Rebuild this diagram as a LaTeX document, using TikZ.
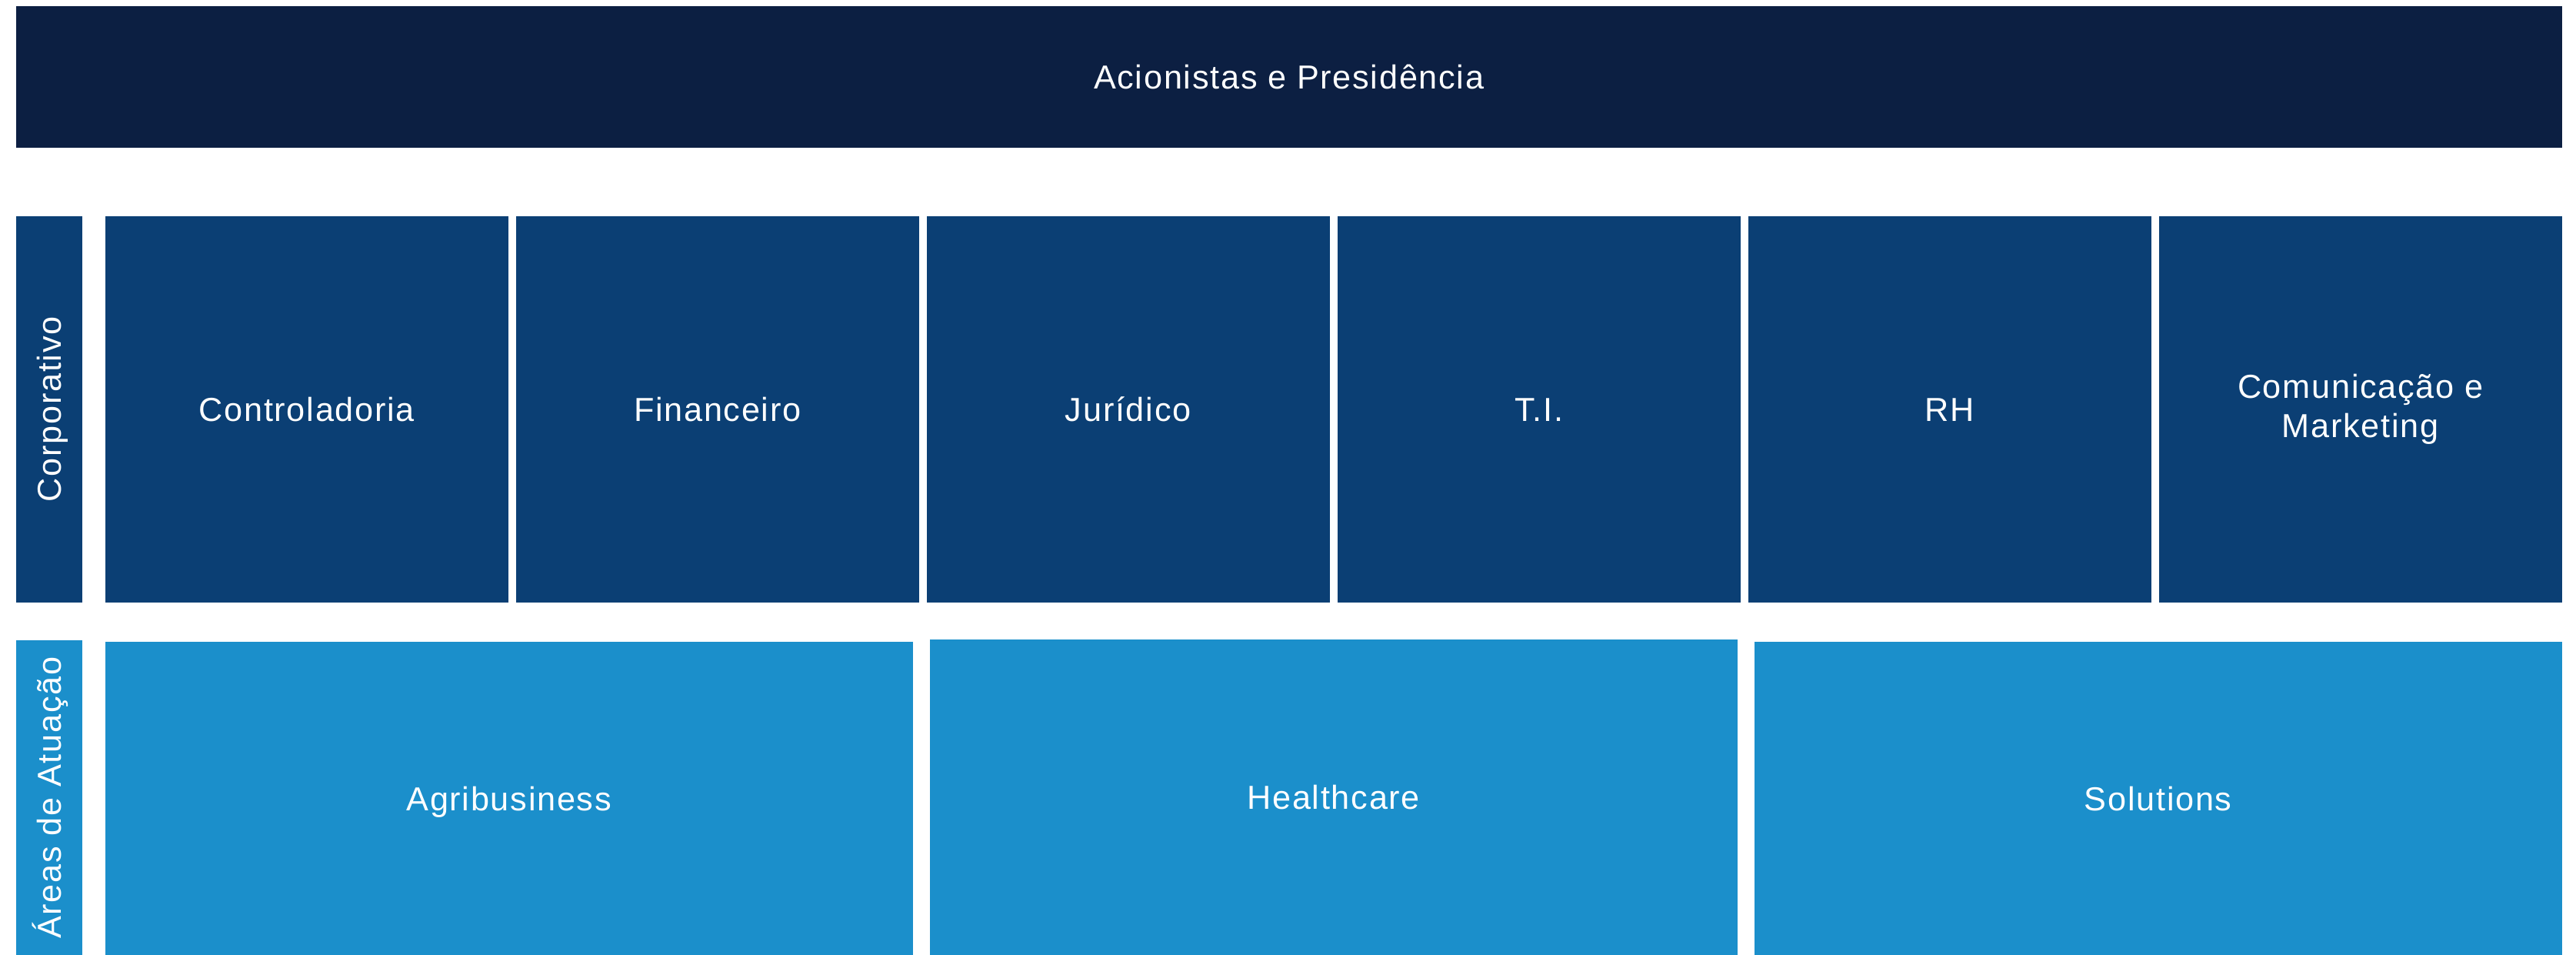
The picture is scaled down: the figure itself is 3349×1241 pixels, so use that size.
\documentclass[tikz,border=0pt]{standalone}
\usepackage{fontspec}
\setmainfont[LetterSpace=4]{Liberation Sans}
\definecolor{navy}{HTML}{0C1F42}
\definecolor{corpblue}{HTML}{0B3F74}
\definecolor{areablue}{HTML}{1B8FCB}
\begin{document}
\begin{tikzpicture}[x=0.1mm,y=-0.1mm]
\tikzstyle{every node}+=[inner sep=0pt, text=white, font=\fontsize{12.3pt}{14.6pt}\selectfont]
\tikzstyle{capline}=[text height=8.8pt, text depth=0pt]
\tikzstyle{corp}=[fill=corpblue, anchor=north west, minimum width=52.4mm, minimum height=50.2mm, align=center]
\tikzstyle{area}=[fill=areablue, anchor=north west, minimum width=105mm, minimum height=40.8mm, capline]

\useasboundingbox (0,0) rectangle (3349,1241);

\node [fill=navy, anchor=north west, minimum width=331mm, minimum height=18.4mm, capline] (topo) at (20,7) {Acionistas e Presid\^encia};

\node [fill=corpblue, anchor=north west, minimum width=8.6mm, minimum height=50.2mm] (corpbar) at (20,280) {};
\node [rotate=90, capline] (corplabel) at (corpbar.center) {Corporativo};
\node [corp, capline] (contr) at (136,280) {Controladoria};
\node [corp, capline] (finan) at (670,280) {Financeiro};
\node [corp, capline] (jurid) at (1204,280) {Jur\'idico};
\node [corp, capline] (ti) at (1738,280) {T.I.};
\node [corp, capline] (rh) at (2272,280) {RH};
\node [corp] (comun) at (2806,280) {Comunica\c{c}\~ao e\\Marketing};

\node [fill=areablue, anchor=north west, minimum width=8.6mm, minimum height=41mm] (areabar) at (20,831) {};
\node [rotate=90, capline] (arealabel) at (areabar.center) {\'Areas de Atua\c{c}\~ao};
\node [area] (agri) at (136,833) {Agribusiness};
\node [area, minimum height=41.1mm] (health) at (1208,830) {Healthcare};
\node [area] (solut) at (2280,833) {Solutions};
\end{tikzpicture}
\end{document}
